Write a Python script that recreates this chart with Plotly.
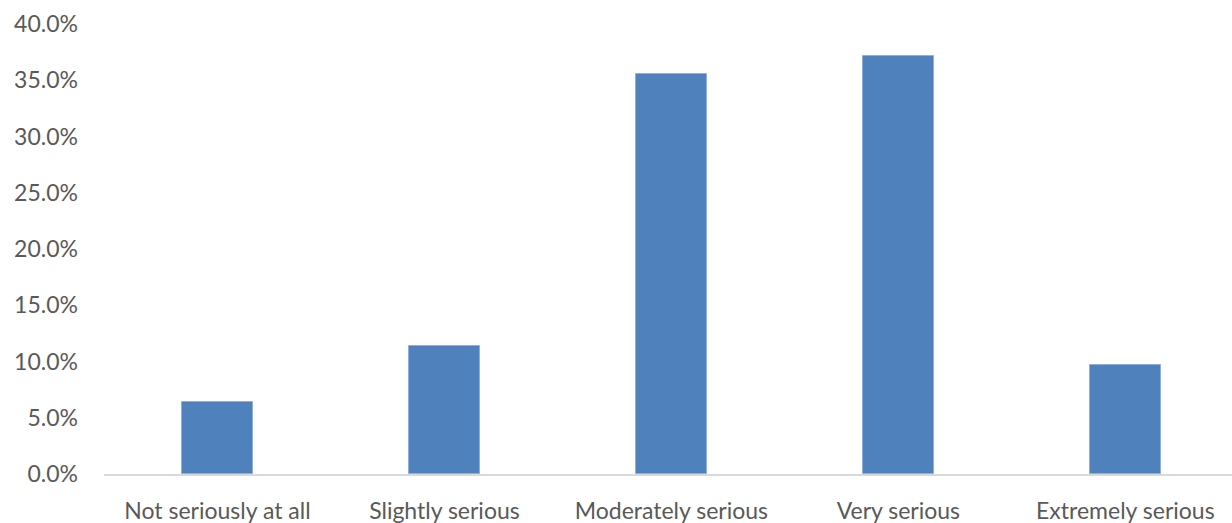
import plotly.graph_objects as go

categories = ["Not seriously at all", "Slightly serious", "Moderately serious", "Very serious", "Extremely serious"]
values = [6.4, 11.4, 35.6, 37.2, 9.7]
tick_vals = [0, 5, 10, 15, 20, 25, 30, 35, 40]
tick_text = ["0.0%", "5.0%", "10.0%", "15.0%", "20.0%", "25.0%", "30.0%", "35.0%", "40.0%"]

fig = go.Figure(go.Bar(
    x=categories, y=values,
    marker=dict(color="#4F81BD", line=dict(color="#8EAEDB", width=1)),
    width=0.31,
    hoverinfo="skip",
))

yfont = dict(family="Lato, 'Open Sans', sans-serif", size=23, color="#595959")
xfont = dict(family="Lato, 'Open Sans', sans-serif", size=23, color="#595959")
fig.update_layout(
    width=1232, height=523,
    margin=dict(l=104, r=0, t=24, b=49),
    paper_bgcolor="white", plot_bgcolor="white",
    showlegend=False,
    font=yfont,
    bargap=0,
)
fig.update_xaxes(
    range=[-0.5, 4.47], automargin=False,
    showline=True, linecolor="#D9D9D9", linewidth=2,
    showgrid=False, ticks="", tickfont=xfont,
    ticklabelstandoff=15,
)
fig.update_yaxes(
    range=[0, 40], tickvals=tick_vals, ticktext=tick_text, automargin=False,
    showgrid=False, zeroline=False, showline=False, ticks="",
    tickfont=yfont, ticklabelstandoff=25,
)
fig.write_html(
    "out.html",
    config={"displayModeBar": False},
    post_script="document.body.style.margin='0px';document.body.style.overflow='hidden';",
)
